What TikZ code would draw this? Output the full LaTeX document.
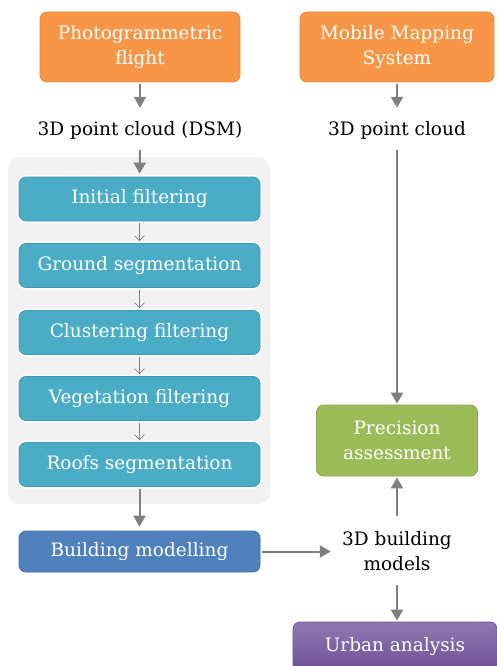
\documentclass[tikz,border=0pt]{standalone}
\usepackage{fontspec}
\setmainfont{DejaVu Serif}
\usetikzlibrary{arrows.meta,shadings}
\definecolor{orfill}{HTML}{F79646}
\definecolor{ordraw}{HTML}{E98A3C}
\definecolor{tealfill}{HTML}{4BACC6}
\definecolor{tealdraw}{HTML}{3C9AB4}
\definecolor{bluefill}{HTML}{4F81BD}
\definecolor{bluedraw}{HTML}{4170AA}
\definecolor{greenfill}{HTML}{9BBB59}
\definecolor{greendraw}{HTML}{8BAB4B}
\definecolor{purtop}{HTML}{9078B2}
\definecolor{purbot}{HTML}{6E5096}
\definecolor{arrgray}{HTML}{7F7F7F}
\definecolor{contfill}{HTML}{F2F2F2}
\tikzset{
  txt/.style={font=\fontsize{18.5}{25}\selectfont, align=center},
  boxbase/.style={txt, rounded corners=7pt, text=white, line width=0.8pt, inner sep=0pt},
  orbox/.style={boxbase, fill=orfill, draw=ordraw, minimum height=70pt},
  tealbox/.style={boxbase, fill=tealfill, draw=tealdraw, minimum width=241pt, minimum height=44pt,
    preaction={draw=white, line width=4pt}},
  bluebox/.style={boxbase, fill=bluefill, draw=bluedraw, minimum width=241pt, minimum height=41pt},
  greenbox/.style={boxbase, fill=greenfill, draw=greendraw, minimum width=161pt, minimum height=71pt},
  purbox/.style={boxbase, top color=purtop, bottom color=purbot, draw=purbot, minimum width=204pt, minimum height=50pt},
  plain/.style={txt, text=black, inner sep=0pt},
  bigarrow/.style={draw=arrgray, line width=2pt, -{Triangle[length=11pt,width=12pt]}},
  thinarrow/.style={draw=arrgray, line width=0.7pt, -{Straight Barb[length=5pt,width=10pt]}},
  container/.style={fill=contfill, draw=none, rounded corners=12pt, minimum width=262pt, minimum height=347pt, inner sep=0pt}
}
\begin{document}
\begin{tikzpicture}[x=1pt,y=-1pt]
\useasboundingbox (0,0) rectangle (497,666);
\fill[white] (0,0) rectangle (497,666);
\clip (0,0) rectangle (497,666);
% container
\node[container] (cont) at (139,330.5) {};
% top boxes
\node[orbox, minimum width=200pt] (flight) at (140,47) {Photogrammetric\\flight};
\node[orbox, minimum width=194pt] (mms) at (397,47) {Mobile Mapping\\System};
% point clouds
\node[plain, minimum height=44pt] (pc1) at (140,130) {3D point cloud (DSM)};
\node[plain, minimum height=44pt] (pc2) at (397,130) {3D point cloud};
% processing steps
\node[tealbox] (f1) at (139.5,199) {Initial filtering};
\node[tealbox] (f2) at (139.5,265.5) {Ground segmentation};
\node[tealbox] (f3) at (139.5,332.5) {Clustering filtering};
\node[tealbox] (f4) at (139.5,398.5) {Vegetation filtering};
\node[tealbox] (f5) at (139.5,464.5) {Roofs segmentation};
\node[bluebox] (bm) at (139.5,551.5) {Building modelling};
% right side
\node[greenbox] (prec) at (397,440.5) {Precision\\assessment};
\node[plain, minimum height=70pt, minimum width=132pt] (models) at (397,551.5) {3D building\\models};
\node[purbox] (urban) at (395,647) {Urban analysis};
% connectors
\draw[bigarrow] (flight.south) ++(0,2) -- (pc1.north);
\draw[bigarrow] (mms.south) ++(0,2) -- (pc2.north);
\draw[bigarrow, shorten <=-2pt, shorten >=3pt] (pc1.south) -- (f1.north);
\draw[bigarrow, shorten <=-2pt, shorten >=1pt] (pc2.south) -- (prec.north);
\draw[thinarrow, shorten <=2pt, shorten >=2pt] (f1.south) -- (f2.north);
\draw[thinarrow, shorten <=2pt, shorten >=2pt] (f2.south) -- (f3.north);
\draw[thinarrow, shorten <=2pt, shorten >=2pt] (f3.south) -- (f4.north);
\draw[thinarrow, shorten <=2pt, shorten >=2pt] (f4.south) -- (f5.north);
\draw[bigarrow, shorten <=2pt, shorten >=4pt] (f5.south) -- (bm.north);
\draw[bigarrow, shorten <=2pt] (bm.east) -- (models.west);
\draw[bigarrow, shorten >=1pt] (models.north) -- (prec.south);
\draw[bigarrow, shorten <=-2pt, shorten >=1pt] (models.south) -- (models.south |- urban.north);
\end{tikzpicture}
\end{document}
